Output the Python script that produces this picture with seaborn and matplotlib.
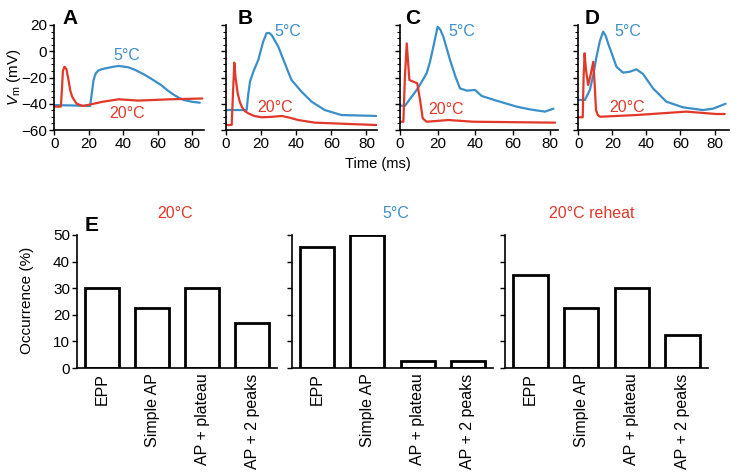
import numpy as np
import pandas as pd
import matplotlib
matplotlib.use("Agg")
import matplotlib.pyplot as plt
import seaborn as sns
from matplotlib.ticker import MultipleLocator

sns.set_style("ticks", {'text.color': 'black', 'xtick.color': 'black', 'ytick.color': 'black',
                        'axes.edgecolor': 'black', 'axes.labelcolor': 'black'})
plt.rcParams['font.family'] = ['Liberation Sans', 'DejaVu Sans']
plt.rcParams['mathtext.fontset'] = 'custom'
plt.rcParams['mathtext.rm'] = 'Liberation Sans'
plt.rcParams['mathtext.it'] = 'Liberation Sans:italic'

RED = '#e2382a'
BLUE = '#3b8fc9'

# --- membrane potential traces (time ms, Vm mV) ---
a_20_t = [0, 3.8, 4.4, 5.0, 5.9, 7.0, 8.0, 9.3, 10.5, 13, 16.6, 20.8, 28, 37.4, 48.8, 67.7, 86]
a_20_v = [-42.2, -42.2, -30, -15, -11.8, -13.5, -20, -30, -35, -40, -41.7, -40.6, -38.5, -36.6, -37.6, -36.6, -36]
a_5_t = [0, 10, 20.8, 21.8, 22.8, 24, 25.5, 27.5, 29.9, 33.5, 37.4, 43, 47.5, 52.6, 57, 62, 66, 69.6, 72.5, 75.2, 80, 84.6]
a_5_v = [-41, -41.3, -41.7, -32, -22, -17, -14.8, -13.7, -13, -12, -11.2, -12.2, -14.5, -18, -21.5, -25.7, -30, -33.3, -35.5, -37.1, -38.5, -39.2]

b_20_t = [0, 3.4, 4.2, 4.9, 5.6, 6.8, 8.0, 9.1, 10.8, 12.8, 16, 20.4, 26, 31.8, 36, 41.2, 50.7, 69.6, 85.7]
b_20_v = [-56.2, -56.2, -30, -8.7, -20, -32, -38.5, -42.2, -45.5, -47.3, -49.2, -50.3, -50, -49.3, -50.5, -52.4, -54.4, -55.4, -56.2]
b_5_t = [0, 11.9, 12.8, 13.8, 15.7, 18.5, 21.3, 23.2, 24.6, 26.1, 29.9, 33.6, 37.4, 43.1, 48.8, 56.3, 65.8, 85.7]
b_5_v = [-44.8, -44.8, -33, -23.2, -15.6, -6.7, 7.3, 13.7, 14, 12.4, 3.5, -9.2, -21.9, -30.8, -38.4, -44.8, -48.6, -49.3]

c_20_t = [0, 1.8, 2.6, 3.6, 4.3, 5.0, 7.1, 9.2, 10.7, 12.1, 14.2, 25.8, 39.1, 82.7]
c_20_v = [-53.7, -53.7, -20, 6, -8, -21.9, -23.2, -24.4, -37.1, -51.1, -53.7, -52.4, -53.7, -54.4]
c_5_t = [0, 2.7, 5.5, 8.9, 11.5, 14.2, 16, 17.8, 19.2, 20.1, 21.5, 23.1, 26.7, 29.5, 32, 35.6, 40, 43.6, 51.6, 62.2, 69.3, 77.3, 81.8]
c_5_v = [-41.5, -41.5, -36, -29.5, -23.5, -16.8, -8, 3.5, 13, 18.7, 16.5, 11.1, -6.7, -19, -28.3, -30, -29.5, -34.1, -37.7, -42.2, -44.3, -46, -43.8]

d_20_t = [0, 2.6, 3.1, 3.7, 4.5, 5.8, 7.2, 8.8, 9.6, 10.4, 11.4, 12.7, 34.1, 63.4, 80.9, 86]
d_20_v = [-50.3, -50.3, -20, -1.6, -14, -25.7, -18.1, -8, -25, -44.8, -48.5, -49.9, -48.6, -46, -47.8, -47.8]
d_5_t = [0, 3.9, 6.8, 8.8, 10.7, 12.7, 14.6, 16, 17.5, 20, 22.4, 26.3, 30.2, 34.1, 38, 43.9, 51.7, 61.4, 73.1, 79, 86.5]
d_5_v = [-37.1, -37.1, -29.5, -18, -4.1, 8, 14.9, 12, 6, -3, -11.8, -16.3, -15.6, -13.8, -17.3, -28.3, -38.4, -42.7, -44.8, -43.8, -40]

# --- occurrence of response types (%) ---
categories = ['EPP', 'Simple AP', 'AP + plateau', 'AP + 2 peaks']
occ_20 = [30, 22.5, 30, 17]
occ_5 = [45.5, 50, 2.5, 2.5]
occ_reheat = [35, 22.5, 30, 12.5]

W, H = 756, 474
fig = plt.figure(figsize=(W / 100, H / 100), dpi=100)


def add_px_axes(x0, x1, y0, y1):
    # pixel box (top-left origin) -> figure axes
    return fig.add_axes([x0 / W, 1 - y1 / H, (x1 - x0) / W, (y1 - y0) / H])


# top row: (20C trace, 5C trace, x pixel span, xmax, label positions)
top_panels = [
    (a_20_t, a_20_v, a_5_t, a_5_v, 54.3, 204, 87, (127, 55), (127, 113)),
    (b_20_t, b_20_v, b_5_t, b_5_v, 225.7, 377, 86, (288, 32), (275, 107)),
    (c_20_t, c_20_v, c_5_t, c_5_v, 400, 557.5, 84, (462, 31), (446, 109)),
    (d_20_t, d_20_v, d_5_t, d_5_v, 578.3, 729, 88.5, (628, 32), (627, 108)),
]

for i, (t20, v20, t5, v5, x0, x1, xmax, pos5, pos20) in enumerate(top_panels):
    ax = add_px_axes(x0, x1, 25, 130)
    sns.lineplot(x=t5, y=v5, ax=ax, color=BLUE, linewidth=1.6)
    sns.lineplot(x=t20, y=v20, ax=ax, color=RED, linewidth=1.6)
    ax.set_xlim(0, xmax)
    ax.set_ylim(-60, 20)
    ax.xaxis.set_major_locator(MultipleLocator(20))
    ax.yaxis.set_major_locator(MultipleLocator(20))
    ax.yaxis.set_minor_locator(MultipleLocator(5))
    ax.tick_params(axis='both', which='major', labelsize=11, length=3.5, width=1, pad=1.5)
    ax.tick_params(axis='y', which='minor', length=2, width=0.8)
    if i > 0:
        ax.set_yticklabels([])
    ax.set_xlabel('')
    ax.set_ylabel('')
    for s in ['top', 'right']:
        ax.spines[s].set_visible(False)
    for s in ['left', 'bottom']:
        ax.spines[s].set_linewidth(1.2)
    fig.text(pos5[0] / W, 1 - pos5[1] / H, '5°C', color=BLUE, fontsize=11.5, ha='center', va='center')
    fig.text(pos20[0] / W, 1 - pos20[1] / H, '20°C', color=RED, fontsize=11.5, ha='center', va='center')

for letter, x in [('A', 70), ('B', 245), ('C', 413), ('D', 592)]:
    fig.text(x / W, 1 - 18 / H, letter, fontsize=15, fontweight='bold', ha='center', va='center')

fig.text(378 / W, 1 - 164 / H, 'Time (ms)', fontsize=10.5, ha='center', va='center')
fig.text(14 / W, 1 - 77 / H, r'$V_\mathrm{m}$ (mV)', fontsize=11, rotation=90, ha='center', va='center')

# bottom row: bar charts
bar_panels = [
    (occ_20, 77, 277, '20°C', RED, 175),
    (occ_5, 292, 493, '5°C', BLUE, 396),
    (occ_reheat, 505, 708, '20°C reheat', RED, 592),
]

for i, (vals, x0, x1, title, col, tx) in enumerate(bar_panels):
    ax = add_px_axes(x0, x1, 235, 368)
    df = pd.DataFrame({'type': categories, 'occ': vals})
    sns.barplot(data=df, x='type', y='occ', ax=ax, color='white',
                edgecolor='black', linewidth=2, width=0.68, saturation=1)
    ax.set_xlim(-0.5, 3.5)
    ax.set_ylim(0, 50)
    ax.yaxis.set_major_locator(MultipleLocator(10))
    ax.tick_params(axis='y', labelsize=11, length=3.5, width=1, pad=1.5)
    ax.tick_params(axis='x', labelsize=11.5, length=0, pad=4, rotation=90)
    if i > 0:
        ax.set_yticklabels([])
    ax.set_xlabel('')
    ax.set_ylabel('')
    for s in ['top', 'right']:
        ax.spines[s].set_visible(False)
    for s in ['left', 'bottom']:
        ax.spines[s].set_linewidth(1.2)
    fig.text(tx / W, 1 - 213 / H, title, color=col, fontsize=11.5, ha='center', va='center')

fig.text(92 / W, 1 - 226 / H, 'E', fontsize=15, fontweight='bold', ha='center', va='center')
fig.text(27 / W, 1 - 300 / H, 'Occurrence (%)', fontsize=11, rotation=90, ha='center', va='center')

fig.savefig('out.png', dpi=100)
